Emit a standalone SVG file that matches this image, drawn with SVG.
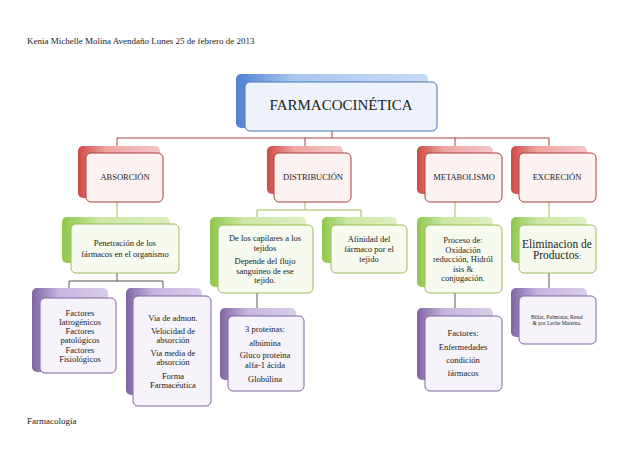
<svg xmlns="http://www.w3.org/2000/svg" width="638" height="451" viewBox="0 0 638 451">
<defs>
<linearGradient id="gb" x1="0" x2="1" y1="0" y2="0"><stop offset="0" stop-color="#4f81d0"/><stop offset="0.3" stop-color="#a9c6ef"/><stop offset="1" stop-color="#c8dbf5"/></linearGradient>
<linearGradient id="gr" x1="0" x2="1" y1="0" y2="0"><stop offset="0" stop-color="#cf4a46"/><stop offset="0.35" stop-color="#eea5a3"/><stop offset="1" stop-color="#f5c6c5"/></linearGradient>
<linearGradient id="gg" x1="0" x2="1" y1="0" y2="0"><stop offset="0" stop-color="#8ec74a"/><stop offset="0.35" stop-color="#cde7a6"/><stop offset="1" stop-color="#dcefc2"/></linearGradient>
<linearGradient id="gp" x1="0" x2="1" y1="0" y2="0"><stop offset="0" stop-color="#8064a2"/><stop offset="0.35" stop-color="#c5b5dc"/><stop offset="1" stop-color="#d8cdea"/></linearGradient>
</defs>
<style>
text{font-family:"Liberation Serif","DejaVu Serif",serif;font-size:8.5px;fill:#222;text-anchor:middle}
.hdr{text-anchor:start;font-size:9px}
.fb{fill:#eef3fb;stroke:#4a76b0;stroke-width:1}
.fr{fill:#fdf2f2;stroke:#a8403c;stroke-width:1}
.fg{fill:#f7fbef;stroke:#9bbb59;stroke-width:1}
.fp{fill:#f6f3fa;stroke:#8064a2;stroke-width:1}
.lr{stroke:#a8403c;fill:none;stroke-width:1}
.lg{stroke:#9bbb59;fill:none;stroke-width:1}
.lp{stroke:#555;fill:none;stroke-width:1}
</style>
<rect width="638" height="451" fill="#fff"/>
<text class="hdr" x="27" y="44">Kenia Michelle Molina Avendaño Lunes 25 de febrero de 2013</text>
<text class="hdr" x="27" y="424">Farmacología</text>
<g id="connectors">
<path class="lr" d="M332 131V138M117 138H549M117 138V153M305 138V153M455 138V153M549 138V153"/>
<path class="lg" d="M117 202V224M305 202V210M257 210H361M257 210V225M361 210V225M455 202V225M549 202V225"/>
<path class="lp" d="M117 273V281M69 281H163M69 281V298M163 281V296M257 293V316M455 293V316M549 273V296"/>
</g>
<g id="farmacocinetica"><rect x="236" y="74" width="192" height="54" rx="5" fill="url(#gb)"/><rect class="fb" x="245" y="82" width="192" height="49" rx="5"/><text x="341" y="110" style="font-size:15px">FARMACOCINÉTICA</text></g>
<g id="absorcion"><rect x="78" y="146" width="82" height="52" rx="5" fill="url(#gr)"/><rect class="fr" x="86" y="153" width="77" height="49" rx="5"/><text x="125" y="180">ABSORCIÓN</text></g>
<g id="distribucion"><rect x="267" y="146" width="76" height="48" rx="5" fill="url(#gr)"/><rect class="fr" x="274" y="153" width="77" height="49" rx="5"/><text x="313" y="180">DISTRIBUCIÓN</text></g>
<g id="metabolismo"><rect x="417" y="146" width="76" height="48" rx="5" fill="url(#gr)"/><rect class="fr" x="425" y="153" width="77" height="49" rx="5"/><text x="464" y="180">METABOLISMO</text></g>
<g id="excrecion"><rect x="511" y="146" width="76" height="48" rx="5" fill="url(#gr)"/><rect class="fr" x="519" y="153" width="77" height="49" rx="5"/><text x="557" y="180">EXCRECIÓN</text></g>
<g id="penetracion"><rect x="62" y="217" width="108" height="46" rx="5" fill="url(#gg)"/><rect class="fg" x="71" y="224" width="108" height="49" rx="5"/><text x="125" y="246">Penetración de los</text><text x="125" y="257">fármacos en el organismo</text></g>
<g id="capilares"><rect x="210" y="217" width="96" height="70" rx="5" fill="url(#gg)"/><rect class="fg" x="218" y="225" width="95" height="68" rx="5"/><text x="265" y="241">De los capilares a los</text><text x="265" y="251">tejidos</text><text x="265" y="264">Depende del flujo</text><text x="265" y="274">sanguineo de ese</text><text x="265" y="283">tejido.</text></g>
<g id="afinidad"><rect x="322" y="217" width="75" height="46" rx="5" fill="url(#gg)"/><rect class="fg" x="331" y="225" width="76" height="48" rx="5"/><text x="369" y="242">Afinidad del</text><text x="369" y="252">fármaco por el</text><text x="369" y="262">tejido</text></g>
<g id="proceso"><rect x="417" y="217" width="76" height="70" rx="5" fill="url(#gg)"/><rect class="fg" x="425" y="225" width="77" height="68" rx="5"/><text x="463" y="243">Proceso de:</text><text x="463" y="253">Oxidación</text><text x="463" y="262">reducción, Hidról</text><text x="463" y="272">isis &amp;</text><text x="463" y="281">conjugación.</text></g>
<g id="eliminacion"><rect x="511" y="217" width="76" height="46" rx="5" fill="url(#gg)"/><rect class="fg" x="519" y="225" width="77" height="48" rx="5"/><text x="557" y="248" style="font-size:11.5px">Eliminacion de</text><text x="557" y="259" style="font-size:11.5px">Productos<tspan style="font-size:8px">:</tspan></text></g>
<g id="factores1"><rect x="32" y="288" width="76" height="84" rx="5" fill="url(#gp)"/><rect class="fp" x="40" y="298" width="76" height="75" rx="5"/><text x="80" y="316">Factores</text><text x="80" y="325">Iatrogénicos</text><text x="80" y="334">Factores</text><text x="80" y="343">patológicos</text><text x="80" y="353">Factores</text><text x="80" y="362">Fisiológicos</text></g>
<g id="via"><rect x="126" y="288" width="76" height="107" rx="5" fill="url(#gp)"/><rect class="fp" x="133" y="296" width="78" height="110" rx="5"/><text x="173" y="321">Via de admon.</text><text x="173" y="334">Velocidad de</text><text x="173" y="343">absorción</text><text x="173" y="356">Via media de</text><text x="173" y="365">absorción</text><text x="173" y="379">Forma</text><text x="173" y="388">Farmacéutica</text></g>
<g id="proteinas"><rect x="220" y="308" width="76" height="72" rx="5" fill="url(#gp)"/><rect class="fp" x="228" y="316" width="76" height="75" rx="5"/><text x="265" y="332">3 proteinas:</text><text x="265" y="346">albúmina</text><text x="265" y="358">Gluco proteina</text><text x="265" y="367.5">alfa-1 ácida</text><text x="265" y="382">Globúlina</text></g>
<g id="factores2"><rect x="417" y="308" width="76" height="72" rx="5" fill="url(#gp)"/><rect class="fp" x="425" y="316" width="77" height="75" rx="5"/><text x="463" y="336">Factores:</text><text x="463" y="350">Enfermedades</text><text x="463" y="363">condición</text><text x="463" y="376">fármacos</text></g>
<g id="biliar"><rect x="511" y="288" width="76" height="49" rx="5" fill="url(#gp)"/><rect class="fp" x="519" y="296" width="77" height="48" rx="5"/><text x="557" y="319" style="font-size:5.5px">Biliar, Pulmonar, Renal</text><text x="557" y="325" style="font-size:5.5px">&amp; por Leche Materna.</text></g>
</svg>
